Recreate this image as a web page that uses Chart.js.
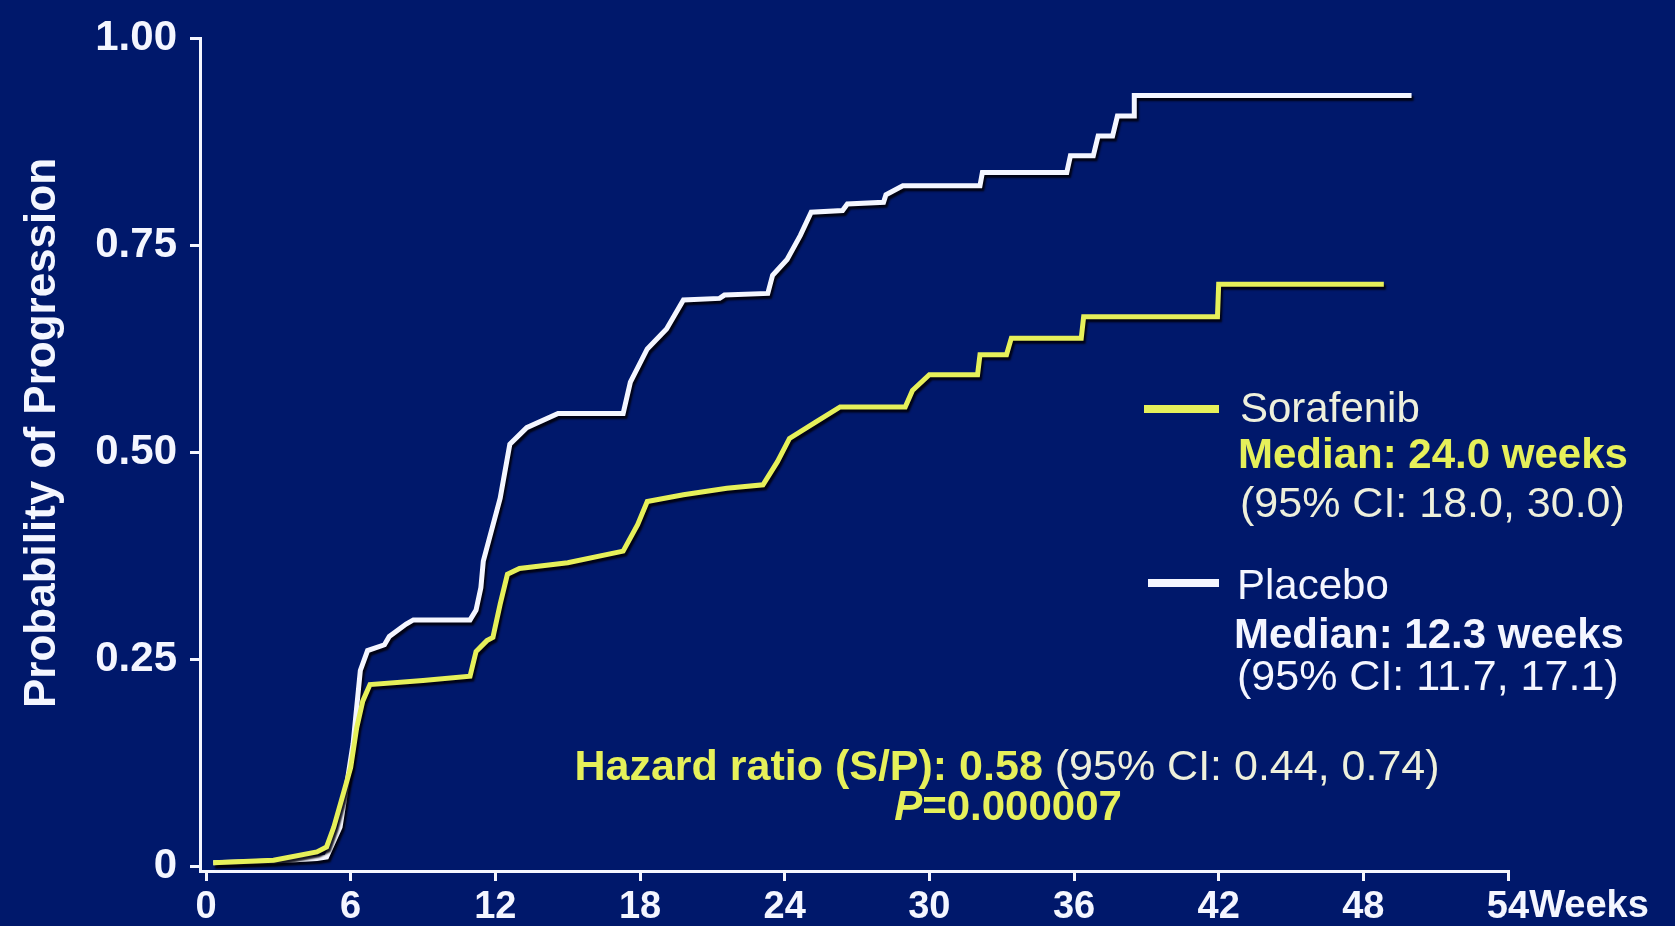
<!DOCTYPE html>
<html>
<head>
<meta charset="utf-8">
<script src="https://cdn.jsdelivr.net/npm/chart.js@4"></script>
<style>
html, body { margin: 0; padding: 0; background: #00186b; }
canvas { display: block; }
</style>
</head>
<body>
<canvas id="chart" width="1675" height="926"></canvas>
<script>
// Kaplan-Meier curves (weeks, probability of progression)
const sorafenibWeeks = [0.3, 2.8, 4.6, 5.0, 5.3, 5.7, 6.0, 6.25, 6.5, 6.8, 9.0, 10.95, 11.2, 11.65, 11.9, 12.2, 12.5, 13.0, 15.0, 17.3, 17.9, 18.3, 19.8, 21.6, 23.1, 23.7, 24.2, 25.3, 26.3, 29.0, 29.3, 30.0, 32.0, 32.1, 33.2, 33.4, 36.3, 36.4, 41.95, 42.0, 48.85];
const sorafenibProb  = [0.005, 0.008, 0.018, 0.024, 0.048, 0.089, 0.12, 0.168, 0.20, 0.22, 0.225, 0.23, 0.26, 0.273, 0.277, 0.317, 0.353, 0.36, 0.367, 0.381, 0.413, 0.441, 0.449, 0.457, 0.461, 0.489, 0.517, 0.537, 0.555, 0.555, 0.575, 0.594, 0.594, 0.618, 0.618, 0.638, 0.638, 0.664, 0.664, 0.703, 0.703];

const placeboWeeks = [0.3, 2.8, 4.6, 5.0, 5.56, 6.1, 6.4, 6.7, 7.4, 7.6, 8.3, 8.6, 10.95, 11.2, 11.4, 11.5, 12.2, 12.6, 13.3, 14.6, 17.3, 17.6, 18.3, 19.1, 19.8, 21.3, 21.5, 23.3, 23.5, 24.1, 24.65, 25.1, 26.4, 26.6, 28.1, 28.2, 28.9, 32.1, 32.2, 35.7, 35.85, 36.8, 37.0, 37.6, 37.8, 38.5, 38.5, 50.0];
const placeboProb  = [0.005, 0.007, 0.01, 0.012, 0.048, 0.149, 0.237, 0.261, 0.268, 0.278, 0.293, 0.298, 0.298, 0.31, 0.337, 0.369, 0.445, 0.51, 0.53, 0.547, 0.547, 0.585, 0.625, 0.649, 0.684, 0.686, 0.69, 0.692, 0.714, 0.733, 0.762, 0.79, 0.792, 0.80, 0.802, 0.811, 0.822, 0.822, 0.838, 0.838, 0.858, 0.858, 0.882, 0.882, 0.906, 0.906, 0.931, 0.931];

const weekTicks = [0, 6, 12, 18, 24, 30, 36, 42, 48, 54];
const probTicks = [0, 0.25, 0.5, 0.75, 1];
const probTickLabels = ['0', '0.25', '0.50', '0.75', '1.00'];

const yellow = '#e6f05a';
const white = '#f4f6ff';
const pale = '#eef0dc';
const font = "'Liberation Sans', Arial, sans-serif";

function toPoints(xs, ys) {
	return xs.map((x, i) => ({ x: x, y: ys[i] }));
}

// dark drop shadow under the curves
const shadowPlugin = {
	id: 'shadow',
	beforeDatasetsDraw(chart) {
		const c = chart.ctx;
		c.save();
		c.shadowColor = 'rgba(0,0,12,0.9)';
		c.shadowOffsetX = 2;
		c.shadowOffsetY = 3;
		c.shadowBlur = 2;
	},
	afterDatasetsDraw(chart) {
		chart.ctx.restore();
	}
};

const textPlugin = {
	id: 'texts',
	afterDraw(chart) {
		const c = chart.ctx;
		c.save();

		// y axis title
		c.save();
		c.translate(43, 433);
		c.rotate(-Math.PI / 2);
		c.fillStyle = white;
		c.font = 'bold 44px ' + font;
		c.textAlign = 'center';
		c.textBaseline = 'middle';
		c.fillText('Probability of Progression', 0, 0);
		c.restore();

		// "Weeks" after the last tick
		c.fillStyle = white;
		c.font = 'bold 38px ' + font;
		c.textAlign = 'left';
		c.textBaseline = 'middle';
		const xs = chart.scales.x;
		const w54 = c.measureText('54').width;
		c.fillText('Weeks', xs.getPixelForValue(54) + w54 / 2, 907);

		// legend
		c.lineWidth = 8;
		c.strokeStyle = yellow;
		c.beginPath(); c.moveTo(1144, 409); c.lineTo(1219, 409); c.stroke();
		c.strokeStyle = white;
		c.beginPath(); c.moveTo(1148, 583); c.lineTo(1219, 583); c.stroke();

		c.textAlign = 'left';
		c.textBaseline = 'middle';
		c.font = '42px ' + font;
		c.fillStyle = pale;
		c.fillText('Sorafenib', 1240, 410);
		c.font = 'bold 42px ' + font;
		c.fillStyle = yellow;
		c.fillText('Median: 24.0 weeks', 1238, 456);
		c.font = '43px ' + font;
		c.fillStyle = pale;
		c.fillText('(95% CI: 18.0, 30.0)', 1240, 505);

		c.fillStyle = white;
		c.font = '42px ' + font;
		c.fillText('Placebo', 1237, 587);
		c.font = 'bold 42px ' + font;
		c.fillText('Median: 12.3 weeks', 1234, 636);
		c.font = '43px ' + font;
		c.fillText('(95% CI: 11.7, 17.1)', 1237, 678);

		// hazard ratio
		const part1 = 'Hazard ratio (S/P): 0.58';
		const part2 = ' (95% CI: 0.44, 0.74)';
		c.font = 'bold 43px ' + font;
		const w1 = c.measureText(part1).width;
		c.font = '43px ' + font;
		const w2 = c.measureText(part2).width;
		let x0 = 1007 - (w1 + w2) / 2;
		c.font = 'bold 43px ' + font;
		c.fillStyle = yellow;
		c.fillText(part1, x0, 768);
		c.font = '43px ' + font;
		c.fillStyle = pale;
		c.fillText(part2, x0 + w1, 768);

		c.fillStyle = yellow;
		c.font = 'italic bold 42px ' + font;
		const wp = c.measureText('P').width;
		c.font = 'bold 42px ' + font;
		const wr = c.measureText('=0.000007').width;
		x0 = 1008 - (wp + wr) / 2;
		c.font = 'italic bold 42px ' + font;
		c.fillText('P', x0, 808);
		c.font = 'bold 42px ' + font;
		c.fillText('=0.000007', x0 + wp, 808);

		c.restore();
	}
};

const config = {
	type: 'line',
	data: {
		datasets: [
			{
				label: 'Sorafenib',
				data: toPoints(sorafenibWeeks, sorafenibProb),
				borderColor: yellow,
				borderWidth: 5,
				pointRadius: 0,
				tension: 0,
				fill: false
			},
			{
				label: 'Placebo',
				data: toPoints(placeboWeeks, placeboProb),
				borderColor: white,
				borderWidth: 5,
				pointRadius: 0,
				tension: 0,
				fill: false
			}
		]
	},
	options: {
		responsive: false,
		animation: false,
		layout: { padding: { left: 0, right: 167, top: 35, bottom: 0 } },
		plugins: {
			legend: { display: false },
			tooltip: { enabled: false }
		},
		scales: {
			x: {
				type: 'linear',
				min: -0.25,
				max: 54,
				afterBuildTicks: (scale) => { scale.ticks = weekTicks.map(v => ({ value: v })); },
				afterFit: (scale) => { scale.height = 55; },
				border: { display: true, color: white, width: 3 },
				grid: { drawOnChartArea: false, drawTicks: true, tickLength: 10, color: white, lineWidth: 3 },
				ticks: {
					color: white,
					font: { family: font, size: 38, weight: 'bold' },
					padding: 4,
					maxRotation: 0,
					autoSkip: false,
					callback: (v) => String(v)
				}
			},
			y: {
				type: 'linear',
				min: -0.005,
				max: 1,
				afterBuildTicks: (scale) => { scale.ticks = probTicks.map(v => ({ value: v })); },
				afterFit: (scale) => { scale.width = 200; },
				border: { display: true, color: white, width: 3 },
				grid: { drawOnChartArea: false, drawTicks: true, tickLength: 10, color: white, lineWidth: 3 },
				ticks: {
					color: white,
					font: { family: font, size: 42, weight: 'bold' },
					padding: 13,
					autoSkip: false,
					callback: (v) => probTickLabels[probTicks.indexOf(v)]
				}
			}
		}
	},
	plugins: [shadowPlugin, textPlugin]
};

const ctx = document.getElementById('chart').getContext('2d');
const myChart = new Chart(ctx, config);
</script>
</body>
</html>
